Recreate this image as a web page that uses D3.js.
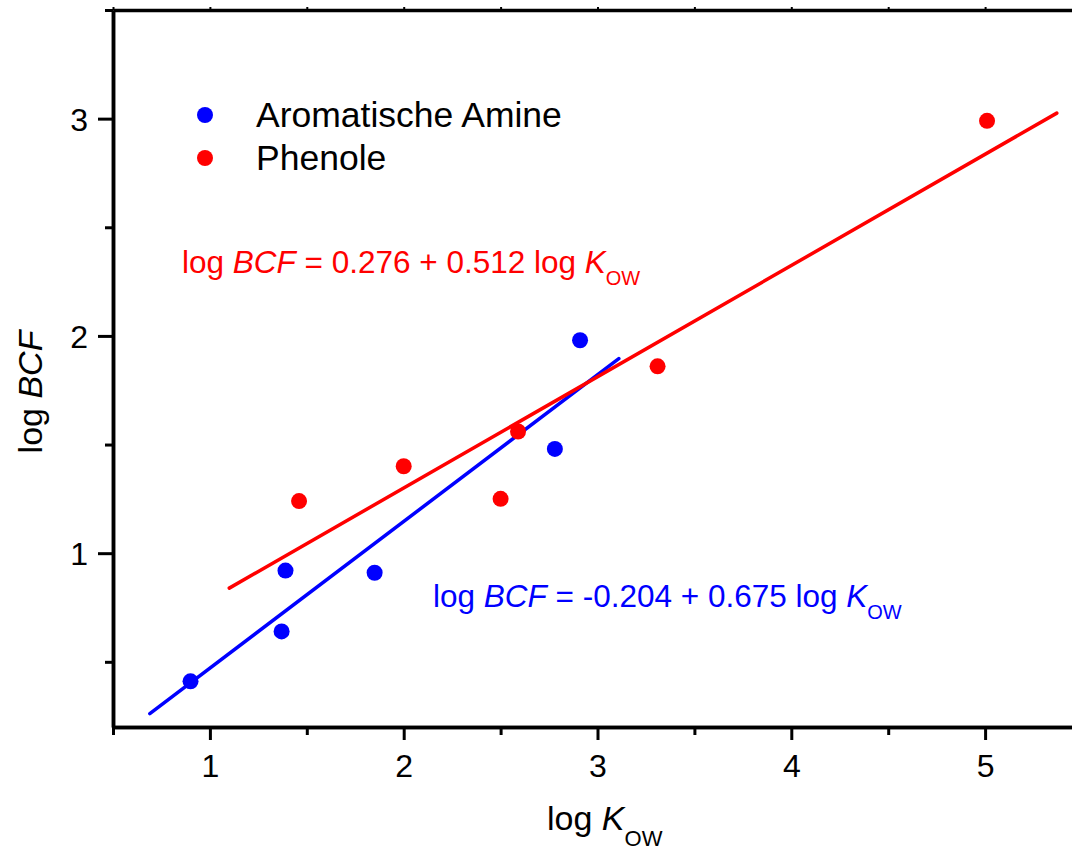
<!DOCTYPE html>
<html>
<head>
<meta charset="utf-8">
<script src="https://cdn.jsdelivr.net/npm/d3@7"></script>
<style>
  body { margin: 0; background: #fff; }
  svg { display: block; font-family: "Liberation Sans", Arial, sans-serif; }
</style>
</head>
<body>
<div id="chart"></div>
<script>
'use strict'

// data
let amineX = [0.90, 1.37, 1.39, 1.85, 2.78, 2.91]
let amineY = [0.41, 0.64, 0.92, 0.91, 1.48, 1.98]
let phenolX = [1.46, 2.00, 2.50, 2.59, 3.31, 5.01]
let phenolY = [1.24, 1.40, 1.25, 1.56, 1.86, 2.99]

// regression: intercept, slope, x range of the drawn line
let amineFit = [-0.204, 0.675]
let amineFitRange = [0.69, 3.11]
let phenolFit = [0.276, 0.512]
let phenolFitRange = [1.10, 5.37]

let xMajor = [1, 2, 3, 4, 5]
let xMinor = [0.5, 1.5, 2.5, 3.5, 4.5, 5.5]
let yMajor = [1, 2, 3]
let yMinor = [0.5, 1.5, 2.5, 3.5]

let seriesNames = ["Aromatische Amine", "Phenole"]
let colors = ["#0000ff", "#ff0000"]

let width = 1072
let height = 851
let margin = { top: 10, left: 113, bottom: 124 }

let svg = d3.select("#chart").append("svg")
  .attr("width", width)
  .attr("height", height)

let x = d3.scaleLinear().domain([0.5, 5.5]).range([margin.left, margin.left + 5 * 193.8])
let y = d3.scaleLinear().domain([0.2, 3.5]).range([height - margin.bottom, margin.top])

// axes
function styleAxis(g) {
  g.select(".domain").attr("stroke", "#000").attr("stroke-width", 3.5)
  g.selectAll(".tick line").attr("stroke", "#000").attr("stroke-width", 3)
  g.selectAll(".tick text").attr("font-size", 32).attr("fill", "#000")
    .attr("font-family", "'Liberation Sans', Arial, sans-serif")
}

let xAxisMinor = svg.append("g")
  .attr("transform", "translate(0," + y.range()[0] + ")")
  .call(d3.axisBottom(x).tickValues(xMinor).tickSize(8).tickFormat("").tickSizeOuter(0))
styleAxis(xAxisMinor)
let xAxis = svg.append("g")
  .attr("transform", "translate(0," + y.range()[0] + ")")
  .call(d3.axisBottom(x).tickValues(xMajor).tickSize(13).tickPadding(14).tickFormat(d3.format("d")).tickSizeOuter(0))
styleAxis(xAxis)

let xTop = svg.append("g")
  .attr("transform", "translate(0," + y.range()[1] + ")")
  .call(d3.axisTop(x).tickValues(xMajor.concat(xMinor)).tickSize(3).tickFormat("").tickSizeOuter(0))
styleAxis(xTop)
xTop.selectAll(".tick line").attr("stroke-width", 2)

let yAxisMinor = svg.append("g")
  .attr("transform", "translate(" + margin.left + ",0)")
  .call(d3.axisLeft(y).tickValues(yMinor).tickSize(8).tickFormat("").tickSizeOuter(0))
styleAxis(yAxisMinor)
let yAxis = svg.append("g")
  .attr("transform", "translate(" + margin.left + ",0)")
  .call(d3.axisLeft(y).tickValues(yMajor).tickSize(15).tickPadding(10).tickFormat(d3.format("d")).tickSizeOuter(0))
styleAxis(yAxis)
yAxis.selectAll(".tick text").attr("dy", "0.36em")

// axis titles
let xTitle = svg.append("text")
  .attr("x", 547)
  .attr("y", 830)
  .attr("font-size", 34)
xTitle.append("tspan").text("log ")
xTitle.append("tspan").attr("font-style", "italic").text("K")
xTitle.append("tspan").attr("font-size", 22).attr("dy", 16).text("OW")

let yTitle = svg.append("text")
  .attr("transform", "translate(42,392)rotate(-90)")
  .attr("text-anchor", "middle")
  .attr("font-size", 34)
yTitle.append("tspan").text("log ")
yTitle.append("tspan").attr("font-style", "italic").text("BCF")

// regression lines
let fits = [
  { fit: amineFit, range: amineFitRange, color: colors[0] },
  { fit: phenolFit, range: phenolFitRange, color: colors[1] }
]
let line = d3.line().x(d => x(d[0])).y(d => y(d[1]))
fits.forEach(function (f) {
  let pts = f.range.map(v => [v, f.fit[0] + f.fit[1] * v])
  svg.append("path")
    .attr("d", line(pts))
    .attr("fill", "none")
    .attr("stroke", f.color)
    .attr("stroke-width", 3.5)
    .attr("stroke-linecap", "round")
})

// points
let series = [
  { xs: amineX, ys: amineY, color: colors[0] },
  { xs: phenolX, ys: phenolY, color: colors[1] }
]
series.forEach(function (s) {
  svg.append("g").selectAll("circle")
    .data(s.xs)
    .enter()
    .append("circle")
    .attr("cx", d => x(d))
    .attr("cy", (d, i) => y(s.ys[i]))
    .attr("r", 8)
    .attr("fill", s.color)
})

// legend
let legend = svg.selectAll(".legend")
  .data(seriesNames)
  .enter()
  .append("g")
  .attr("class", "legend")
  .attr("transform", (d, i) => "translate(205," + (115 + i * 43) + ")")
legend.append("circle")
  .attr("r", 8)
  .attr("fill", (d, i) => colors[i])
legend.append("text")
  .attr("x", 51)
  .attr("y", 12)
  .attr("font-size", 35.5)
  .text(d => d)

// equations
function equation(xPos, yPos, fit, color) {
  let t = svg.append("text")
    .attr("x", xPos)
    .attr("y", yPos)
    .attr("font-size", 31.5)
    .attr("fill", color)
  t.append("tspan").text("log ")
  t.append("tspan").attr("font-style", "italic").text("BCF")
  t.append("tspan").text(" = " + fit[0].toFixed(3) + " + " + fit[1].toFixed(3) + " log ")
  t.append("tspan").attr("font-style", "italic").text("K")
  t.append("tspan").attr("font-size", 20).attr("dy", 12).text("OW")
}
equation(182, 273, phenolFit, colors[1])
equation(433, 607, amineFit, colors[0])
</script>
</body>
</html>
